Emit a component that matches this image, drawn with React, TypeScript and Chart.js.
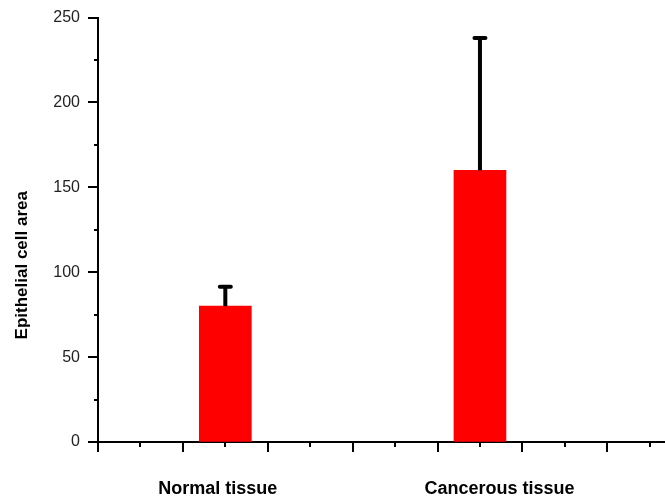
import React, { useEffect, useRef } from "react";
import { Chart, registerables } from "chart.js";

Chart.register(...registerables);

const categories = ["Normal tissue", "Cancerous tissue"];
const barPositions = [1.5, 4.5];
const labelPositions = [1.41, 4.73];
const means = [80, 160];
const errors = [11.5, 78];
const xMajorTicks = [0, 1, 2, 3, 4, 5, 6];
const xMinorTicks = [0.5, 1.5, 2.5, 3.5, 4.5, 5.5, 6.5];
const yMajorTicks = [0, 50, 100, 150, 200, 250];
const yMinorTicks = [25, 75, 125, 175, 225];
const X_MIN = 0;
const X_MAX = 6.68;
const Y_MIN = 0;
const Y_MAX = 250;

const tickAndErrorPlugin = {
  id: "tickAndError",
  afterDraw(chart: any) {
    const ctx = chart.ctx;
    const xs = chart.scales.x;
    const ys = chart.scales.y;
    const area = chart.chartArea;
    ctx.save();
    // error bars
    ctx.strokeStyle = "#000";
    ctx.lineWidth = 4;
    barPositions.forEach((bx, i) => {
      const px = xs.getPixelForValue(bx);
      const yb = ys.getPixelForValue(means[i]);
      const yt = ys.getPixelForValue(means[i] + errors[i]);
      ctx.lineCap = "butt";
      ctx.beginPath();
      ctx.moveTo(px, yb);
      ctx.lineTo(px, yt);
      ctx.stroke();
      ctx.lineCap = "round";
      ctx.beginPath();
      ctx.moveTo(px - 5.5, yt);
      ctx.lineTo(px + 5.5, yt);
      ctx.stroke();
    });
    // ticks
    ctx.lineCap = "butt";
    ctx.lineWidth = 2;
    const axisY = area.bottom;
    const axisX = area.left;
    const drawX = (vals: number[], len: number) => {
      vals.forEach((v) => {
        const px = Math.round(xs.getPixelForValue(v));
        ctx.beginPath();
        ctx.moveTo(px, axisY);
        ctx.lineTo(px, axisY + len);
        ctx.stroke();
      });
    };
    const drawY = (vals: number[], len: number) => {
      vals.forEach((v) => {
        const py = Math.round(ys.getPixelForValue(v));
        ctx.beginPath();
        ctx.moveTo(axisX, py);
        ctx.lineTo(axisX - len, py);
        ctx.stroke();
      });
    };
    drawX(xMajorTicks, 10);
    drawX(xMinorTicks, 5);
    drawY(yMajorTicks, 10);
    drawY(yMinorTicks, 4);
    ctx.restore();
  },
};

export default function App() {
  const ref = useRef<HTMLCanvasElement | null>(null);
  useEffect(() => {
    if (!ref.current) return;
    const chart = new Chart(ref.current, {
      type: "bar",
      data: {
        datasets: [
          {
            data: barPositions.map((x, i) => ({ x, y: means[i] })),
            backgroundColor: "#ff0000",
            borderWidth: 0,
            barThickness: 52,
            xAxisID: "x",
            yAxisID: "y",
          },
        ],
      },
      options: {
        animation: false,
        responsive: false,
        layout: { padding: { top: 0, left: 0, right: 0, bottom: 0 } },
        plugins: {
          legend: { display: false },
          tooltip: { enabled: false },
        },
        scales: {
          x: {
            type: "linear",
            position: "bottom",
            offset: false,
            min: X_MIN,
            max: X_MAX,
            grid: { display: false, drawTicks: false, offset: false },
            ticks: { display: false },
            border: { display: true, color: "#000", width: 2 },
            afterFit: (axis: any) => {
              axis.height = 0;
            },
          },
          x2: {
            type: "linear",
            position: "bottom",
            offset: false,
            min: X_MIN,
            max: X_MAX,
            grid: { display: false, drawTicks: false, offset: false },
            border: { display: false },
            afterBuildTicks: (axis: any) => {
              axis.ticks = labelPositions.map((v) => ({ value: v }));
            },
            ticks: {
              autoSkip: false,
              maxRotation: 0,
              padding: 36,
              color: "#000",
              font: { family: "Liberation Sans, Arial, sans-serif", size: 18, weight: "bold" },
              callback: (_v: any, i: number) => categories[i],
            },
            afterFit: (axis: any) => {
              axis.height = 58;
            },
          },
          y: {
            type: "linear",
            min: Y_MIN,
            max: Y_MAX,
            grid: {
              display: true,
              drawOnChartArea: false,
              drawTicks: true,
              tickLength: 10,
              tickColor: "rgba(0,0,0,0)",
              color: "rgba(0,0,0,0)",
            },
            border: { display: true, color: "#000", width: 2 },
            afterBuildTicks: (axis: any) => {
              axis.ticks = yMajorTicks.map((v) => ({ value: v }));
            },
            ticks: {
              padding: 8,
              color: "#222",
              font: { family: "Liberation Sans, Arial, sans-serif", size: 16 },
            },
            title: {
              display: true,
              text: "Epithelial cell area               ",
              color: "#000",
              font: { family: "Liberation Sans, Arial, sans-serif", size: 17, weight: "bold" },
              padding: { top: 12, bottom: 0 },
            },
            afterFit: (axis: any) => {
              axis.width = 98;
            },
          },
        },
      },
      plugins: [tickAndErrorPlugin],
    } as any);
    return () => chart.destroy();
  }, []);
  return (
    <div style={{ position: "absolute", left: 0, top: 0, width: 665, height: 500 }}>
      <canvas ref={ref} width={665} height={500} style={{ display: "block" }} />
    </div>
  );
}
